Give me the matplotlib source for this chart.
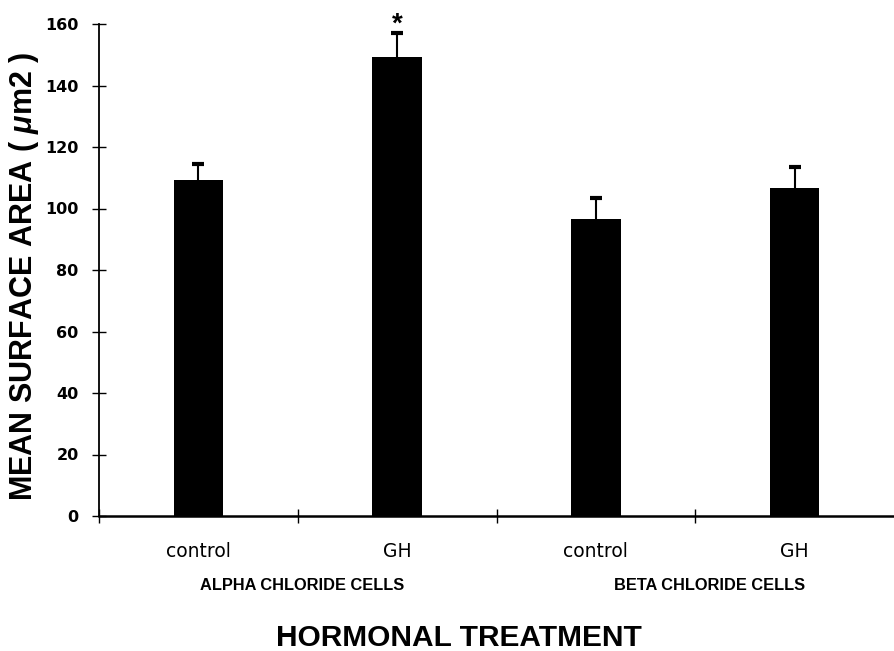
import matplotlib
matplotlib.use("Agg")
import matplotlib.pyplot as plt
import matplotlib.transforms as mtransforms

plt.rcParams['font.family'] = ['Liberation Sans', 'DejaVu Sans']
plt.rcParams['mathtext.fontset'] = 'custom'
plt.rcParams['mathtext.it'] = 'Liberation Sans:italic:bold'
plt.rcParams['mathtext.rm'] = 'Liberation Sans:bold'

categories = ["control", "GH", "control", "GH"]
groups = ["ALPHA CHLORIDE CELLS", "BETA CHLORIDE CELLS"]
group_pos = [0.52, 2.57]
means = [109.3, 149.4, 96.5, 106.8]
errors = [5.3, 7.7, 6.8, 6.8]
yticks = [0, 20, 40, 60, 80, 100, 120, 140, 160]

W, H = 894, 651
fig = plt.figure(figsize=(W / 100, H / 100), dpi=100)
ax = fig.add_axes([99 / W, (H - 516) / H, (W - 99) / W, 492 / H])

x = list(range(len(categories)))
ax.bar(x, means, width=0.25, color='black', zorder=2)
_, caps, _ = ax.errorbar(x, means, yerr=[[0] * len(errors), errors], fmt='none',
                         ecolor='black', elinewidth=1.5, capsize=4, capthick=3,
                         zorder=3)
caps[0].set_visible(False)  # hide the lower (zero-length) caps

# significance asterisk on GH alpha
ax.annotate("*", xy=(1, means[1] + errors[1]), xytext=(0, 15),
            textcoords='offset points', ha='center', va='top',
            fontsize=20, fontweight='bold', annotation_clip=False)

ax.set_xlim(-0.5, 3.5)
ax.set_ylim(0, 160)

for s in ['top', 'right']:
    ax.spines[s].set_visible(False)
ax.spines['left'].set_linewidth(1.3)
ax.spines['bottom'].set_linewidth(1.8)

ax.set_yticks(yticks)
ax.set_yticklabels([str(v) for v in yticks], fontsize=11.5, fontweight='bold',
                   family='DejaVu Sans')
ax.tick_params(axis='y', direction='inout', length=9.4, width=1.0, pad=10)

ax.set_xticks([-0.5, 0.5, 1.5, 2.5])
ax.set_xticklabels([])
ax.tick_params(axis='x', which='major', direction='inout', length=9.4, width=1.0)
ax.set_xticks(x, minor=True)
ax.set_xticklabels(categories, minor=True, fontsize=13.5, family='DejaVu Sans')
ax.tick_params(axis='x', which='minor', length=0, pad=19)

trans = mtransforms.blended_transform_factory(ax.transData, ax.transAxes)
for gp, g in zip(group_pos, groups):
    ax.text(gp, -(586 - 516) / 492, g, transform=trans,
            ha='center', va='center', fontsize=11.8, fontweight='bold')

fig.text(459 / W, 1 - 646 / H, "HORMONAL TREATMENT", ha='center', va='baseline',
         fontsize=21.5, fontweight='bold')
fig.text(24 / W, 1 - 276 / H, r"MEAN SURFACE AREA ( $\mathit{\mu}$m2 )",
         rotation=90, ha='center', va='center', fontsize=22, fontweight='bold')

fig.savefig("out.png", dpi=100)
